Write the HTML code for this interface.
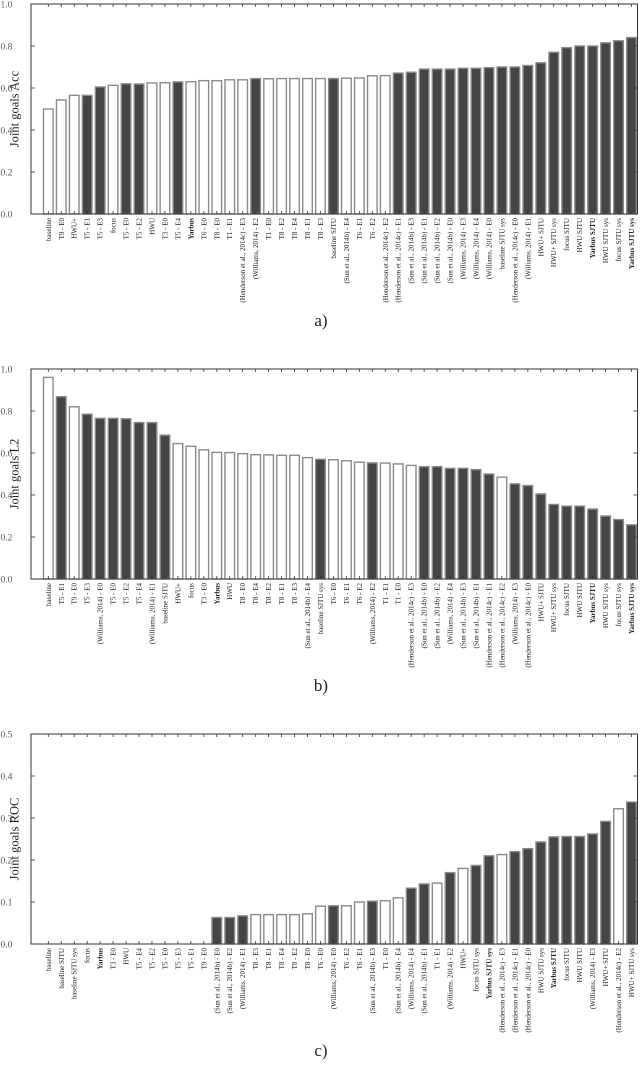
<!DOCTYPE html>
<html><head><meta charset="utf-8"><style>
html,body{margin:0;padding:0;background:#fff;width:640px;height:1085px;overflow:hidden}
svg{display:block}
text{font-family:"Liberation Serif","DejaVu Serif",serif}
</style></head><body>
<svg id="chart" width="640" height="1085" xmlns="http://www.w3.org/2000/svg"></svg>
<script>
// ---- Panel a data ----
const catsA = ["baseline","T9 - E0","HWU+","T5 - E1","T5 - E3","focus","T5 - E0","T5 - E2","HWU","T3 - E0","T5 - E4","Yarbus","T6 - E0","T8 - E0","T1 - E1","(Henderson et al., 2014c) - E3","(Williams, 2014) - E2","T1 - E0","T8 - E2","T8 - E4","T8 - E1","T8 - E3","baseline SJTU","(Sun et al., 2014b) - E4","T6 - E1","T6 - E2","(Henderson et al., 2014c) - E2","(Henderson et al., 2014c) - E1","(Sun et al., 2014b) - E3","(Sun et al., 2014b) - E1","(Sun et al., 2014b) - E2","(Sun et al., 2014b) - E0","(Williams, 2014) - E3","(Williams, 2014) - E4","(Williams, 2014) - E0","baseline SJTU sys","(Henderson et al., 2014c) - E0","(Williams, 2014) - E1","HWU+ SJTU","HWU+ SJTU sys","focus SJTU","HWU SJTU","Yarbus SJTU","HWU SJTU sys","focus SJTU sys","Yarbus SJTU sys"];
const valsA = [0.50,0.543,0.565,0.565,0.605,0.613,0.62,0.619,0.624,0.625,0.629,0.63,0.635,0.635,0.639,0.639,0.645,0.644,0.645,0.645,0.645,0.645,0.645,0.647,0.648,0.658,0.659,0.671,0.675,0.69,0.69,0.69,0.694,0.694,0.697,0.70,0.70,0.707,0.72,0.77,0.792,0.80,0.80,0.815,0.825,0.84];
const darkA = [0,0,0,1,1,0,1,1,0,0,1,0,0,0,0,0,1,0,0,0,0,0,1,0,0,0,0,1,1,1,1,1,1,1,1,1,1,1,1,1,1,1,1,1,1,1];
// ---- Panel b data ----
const catsB = ["baseline","T5 - E1","T9 - E0","T5 - E3","(Williams, 2014) - E0","T5 - E0","T5 - E2","T5 - E4","(Williams, 2014) - E1","baseline SJTU","HWU+","focus","T3 - E0","Yarbus","HWU","T8 - E0","T8 - E4","T8 - E2","T8 - E1","T8 - E3","(Sun et al., 2014b) - E4","baseline SJTU sys","T6 - E0","T6 - E1","T6 - E2","(Williams, 2014) - E2","T1 - E1","T1 - E0","(Henderson et al., 2014c) - E3","(Sun et al., 2014b) - E0","(Sun et al., 2014b) - E2","(Williams, 2014) - E4","(Sun et al., 2014b) - E3","(Sun et al., 2014b) - E1","(Henderson et al., 2014c) - E1","(Henderson et al., 2014c) - E2","(Williams, 2014) - E3","(Henderson et al., 2014c) - E0","HWU+ SJTU","HWU+ SJTU sys","focus SJTU","HWU SJTU","Yarbus SJTU","HWU SJTU sys","focus SJTU sys","Yarbus SJTU sys"];
const valsB = [0.96,0.868,0.82,0.785,0.765,0.765,0.763,0.745,0.745,0.685,0.645,0.632,0.615,0.603,0.602,0.597,0.592,0.591,0.589,0.589,0.578,0.57,0.568,0.563,0.556,0.553,0.552,0.548,0.541,0.535,0.535,0.527,0.527,0.521,0.5,0.485,0.453,0.445,0.405,0.355,0.347,0.347,0.333,0.3,0.283,0.258];
const darkB = [0,1,0,1,1,1,1,1,1,1,0,0,0,0,0,0,0,0,0,0,0,1,0,0,0,1,0,0,0,1,1,1,1,1,1,0,1,1,1,1,1,1,1,1,1,1];
// ---- Panel c data ----
const catsC = ["baseline","baseline SJTU","baseline SJTU sys","focus","Yarbus","T3 - E0","HWU","T5 - E4","T5 - E2","T5 - E0","T5 - E3","T5 - E1","T9 - E0","(Sun et al., 2014b) - E0","(Sun et al., 2014b) - E2","(Williams, 2014) - E1","T8 - E3","T8 - E1","T8 - E4","T8 - E2","T8 - E0","T6 - E0","(Williams, 2014) - E0","T6 - E2","T6 - E1","(Sun et al., 2014b) - E3","T1 - E0","(Sun et al., 2014b) - E4","(Williams, 2014) - E4","(Sun et al., 2014b) - E1","T1 - E1","(Williams, 2014) - E2","HWU+","focus SJTU sys","Yarbus SJTU sys","(Henderson et al., 2014c) - E3","(Henderson et al., 2014c) - E1","(Henderson et al., 2014c) - E0","HWU SJTU sys","Yarbus SJTU","focus SJTU","HWU SJTU","(Williams, 2014) - E3","HWU+ SJTU","(Henderson et al., 2014c) - E2","HWU+ SJTU sys"];
const valsC = [0,0,0,0,0,0,0,0,0,0,0,0,0,0.063,0.063,0.067,0.07,0.07,0.07,0.07,0.072,0.09,0.091,0.091,0.1,0.102,0.103,0.11,0.133,0.143,0.145,0.17,0.18,0.187,0.21,0.213,0.22,0.227,0.243,0.255,0.256,0.256,0.262,0.292,0.322,0.338];
const darkC = [0,0,0,0,0,0,0,0,0,0,0,0,0,1,1,1,0,0,0,0,0,0,1,0,0,1,0,0,1,1,0,1,0,1,1,0,1,1,1,1,1,1,1,1,0,1];
const ticksA = ["0.0","0.2","0.4","0.6","0.8","1.0"];
const ticksC = ["0.0","0.1","0.2","0.3","0.4","0.5"];

const NS = "http://www.w3.org/2000/svg";
const svg = document.getElementById("chart");
function mk(tag, attrs, parent){const e=document.createElementNS(NS,tag);for(const k in attrs)e.setAttribute(k,attrs[k]);(parent||svg).appendChild(e);return e;}

function panel(key, cats, vals, dark, ticks, ymax, top, ylabel, caption){
  const L=31,R=637.5,B=top+210;
  const g=mk("g",{});
  
  
  const y=v=>B-(v/ymax)*210;
  const pitch=12.96, x0=48.3;
  const xc=i=>x0+i*pitch;
  vals.forEach((v,i)=>{
    const h=B-y(v);
    if(h<=0.2) return;
    const r=mk("rect",{x:xc(i)-4.8,y:y(v),width:9.6,height:h,fill:dark[i]?"#454545":"#fff",stroke:"#8a8a8a","stroke-width":1.4},g);
    
    
  });
  const fr=mk("rect",{x:L,y:top,width:R-L,height:210,fill:"none",stroke:"#333","stroke-width":1},g);
  
  
  cats.forEach((c,i)=>{
    mk("line",{x1:xc(i),x2:xc(i),y1:top,y2:top+3,stroke:"#333","stroke-width":0.8},g);
    mk("line",{x1:xc(i),x2:xc(i),y1:B,y2:B-3,stroke:"#333","stroke-width":0.8},g);
    const bold=c.indexOf("Yarbus")===0;
    const t=mk("text",{x:0,y:0,transform:`translate(${xc(i)+2.5},${B+4}) rotate(-90)`,"text-anchor":"end","font-size":7,fill:"#222","font-weight":bold?"bold":"normal"},g);
    t.textContent=c;
    
    
  });
  ticks.forEach((tk,j)=>{
    const v=parseFloat(tk), yy=y(v);
    mk("line",{x1:L,x2:L+4,y1:yy,y2:yy,stroke:"#333","stroke-width":0.8},g);
    mk("line",{x1:R,x2:R-4,y1:yy,y2:yy,stroke:"#333","stroke-width":0.8},g);
    const t=mk("text",{x:0.5,y:yy+3.5,"text-anchor":"start","font-size":9.5,fill:"#555"},g);
    t.textContent=tk;
    
    
  });
  const yl=mk("text",{x:0,y:0,transform:`translate(18.5,${top+105}) rotate(-90)`,"text-anchor":"middle","font-size":12.5,fill:"#222"},g);
  yl.textContent=ylabel;
  
  
  const cp=mk("text",{x:321,y:caption,"text-anchor":"middle","font-size":17,fill:"#222"},g);
  cp.textContent=key+")";
  
  
}
panel("a",catsA,valsA,darkA,ticksA,1.0,4,"Joint goals Acc",326);
panel("b",catsB,valsB,darkB,ticksA,1.0,369,"Joint goals L2",691);
panel("c",catsC,valsC,darkC,ticksC,0.5,734,"Joint goals ROC",1056);
</script>
</body></html>
